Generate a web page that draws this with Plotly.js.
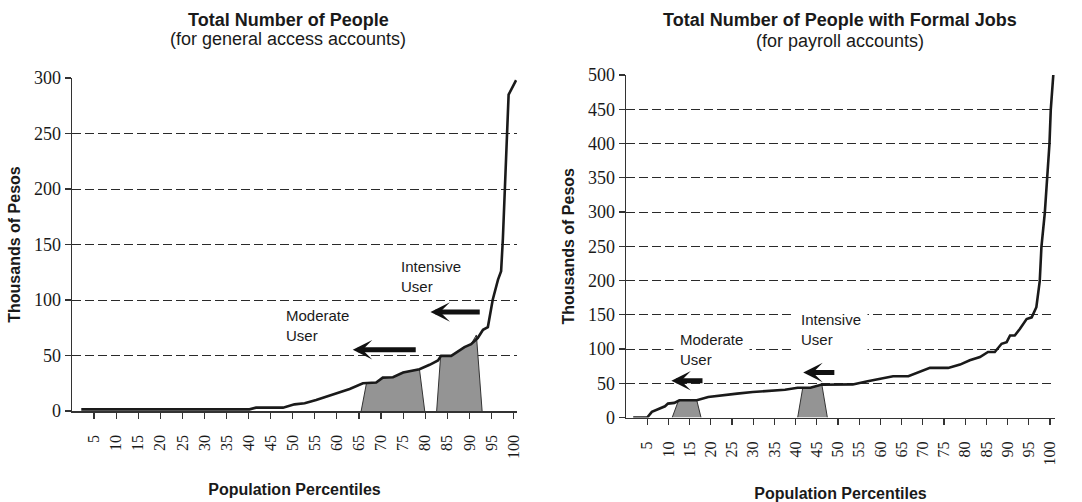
<!DOCTYPE html>
<html><head><meta charset="utf-8">
<script src="https://cdn.plot.ly/plotly-3.0.1.min.js"></script>
<style>
html,body{margin:0;padding:0;background:#fff}
#chart{width:1082px;height:502px}
</style>
</head><body><div id="chart"></div>
<script>
// ---- Left panel: Total Number of People (general access accounts) ----
const leftPct = [2.1, 40.2, 41.7, 47.8, 50.4, 52.7, 55.3, 58.0, 60.2, 62.9, 65.9, 68.9, 70.4, 72.7, 75.0, 76.8, 78.7, 81.0, 82.9, 83.6, 85.9, 88.9, 90.4, 91.9, 93.1, 94.2, 95.3, 96.5, 97.2, 97.6, 98.0, 98.5, 98.9, 100.6];
const leftVal = [1.5, 1.5, 3, 3, 6, 6.9, 9.9, 13.6, 16.6, 19.9, 25, 25.6, 30.1, 30.4, 34.6, 36.1, 37.7, 41.6, 45.5, 49.7, 49.7, 57.5, 60.2, 65.7, 73.2, 75.6, 100.3, 118.4, 126, 155, 195, 245, 285, 298];
const leftModPct = [65.5, 66.7, 68.9, 70.4, 72.7, 75.0, 76.8, 78.7, 79.9];
const leftModVal = [0, 25, 25.6, 30.1, 30.4, 34.6, 36.1, 37.7, 0];
const leftIntPct = [82.6, 83.5, 85.9, 88.9, 90.4, 91.6, 92.9];
const leftIntVal = [0, 49.7, 49.7, 57.5, 60.2, 68.5, 0];
const leftTicksY = [0, 50, 100, 150, 200, 250, 300];

// ---- Right panel: Total Number of People with Formal Jobs (payroll accounts) ----
const rightPct = [1.7, 5.0, 6.1, 8.0, 9.2, 9.9, 11.4, 12.6, 16.7, 19.4, 22.4, 26.2, 29.9, 33.7, 37.5, 40.5, 43.5, 46.0, 53.5, 57.0, 60.0, 63.0, 66.6, 69.3, 71.7, 76.0, 78.8, 81.1, 83.5, 85.4, 87.0, 88.6, 89.8, 90.6, 91.7, 92.9, 94.5, 95.7, 96.8, 97.6, 98.0, 98.8, 99.4, 99.9, 100.2, 100.8];
const rightVal = [0, 0, 8.2, 13, 16.4, 20.3, 21.3, 25.1, 25.1, 30, 32.4, 34.8, 37.2, 38.6, 40.6, 43.5, 43.5, 47.8, 48.3, 53, 56.5, 60.3, 60.3, 66.6, 72.4, 72.4, 77.2, 83.5, 88.3, 95.6, 95.6, 107.6, 110, 119.7, 119.7, 129.3, 143.8, 146.2, 161, 199, 249, 299, 349, 400, 449, 500];
const rightModPct = [10.9, 12.4, 16.7, 17.7];
const rightModVal = [0, 25.1, 25.1, 0];
const rightIntPct = [40.5, 41.7, 43.5, 46.2, 47.5];
const rightIntVal = [0, 43.5, 43.5, 47.8, 0];
const rightTicksY = [0, 50, 100, 150, 200, 250, 300, 350, 400, 450, 500];

// ---- shared x ticks ----
const pctTicks = [5, 10, 15, 20, 25, 30, 35, 40, 45, 50, 55, 60, 65, 70, 75, 80, 85, 90, 95, 100];
const pctLabels = ["5","10","15","20","25","30","35","40","45","50","55","60","65","70","75","80","85","90","95","100"];

const W = 1082, H = 502;
const SANS = "Liberation Sans";
const SERIF = "Liberation Serif";
const INK = "#1a1a1a";

function poly(x, y, xa, ya) {
  return {x: x, y: y, xaxis: xa, yaxis: ya, type: "scatter", mode: "lines", fill: "toself",
    fillcolor: "#949494", line: {color: "#333", width: 1}, hoverinfo: "skip", showlegend: false};
}
function curve(x, y, xa, ya) {
  return {x: x, y: y, xaxis: xa, yaxis: ya, type: "scatter", mode: "lines",
    line: {color: INK, width: 2.6}, showlegend: false};
}
const data = [
  poly(leftModPct, leftModVal, "x", "y"),
  poly(leftIntPct, leftIntVal, "x", "y"),
  curve(leftPct, leftVal, "x", "y"),
  poly(rightModPct, rightModVal, "x2", "y2"),
  poly(rightIntPct, rightIntVal, "x2", "y2"),
  curve(rightPct, rightVal, "x2", "y2")
];

function xAxis(dom, rng, anchor) {
  return {domain: dom, range: rng, anchor: anchor, tickmode: "array", tickvals: pctTicks, ticktext: pctLabels,
    tickangle: -90, ticks: "outside", ticklen: 6, tickwidth: 1.2, tickcolor: "#333",
    showline: true, linecolor: "#333", linewidth: 1.5, showgrid: false, zeroline: false,
    ticklabelstandoff: 10, tickfont: {family: SERIF, size: 16, color: INK},
    title: {text: "Population Percentiles", standoff: 26, font: {family: SANS, size: 16, weight: "bold", color: INK}}};
}
function yAxis(dom, rng, ticks, anchor) {
  return {domain: dom, range: rng, anchor: anchor, tickmode: "array", tickvals: ticks,
    ticks: "outside", ticklen: 6, tickwidth: 1.2, tickcolor: "#333",
    showline: true, linecolor: "#333", linewidth: 1.5,
    showgrid: true, gridcolor: "#2a2a2a", gridwidth: 1, griddash: "9px,4px", zeroline: false,
    tickfont: {family: SERIF, size: 18, color: INK},
    title: {text: "Thousands of Pesos", standoff: 9, font: {family: SANS, size: 16, weight: "bold", color: INK}}};
}
function arrow(xref, yref, head, tail, y) {
  return {xref: xref, yref: yref, x: head, y: y, axref: xref, ayref: yref, ax: tail, ay: y,
    text: "", showarrow: true, arrowhead: 3, arrowsize: 0.65, arrowwidth: 5, arrowcolor: "#111"};
}
function label(xref, yref, x, y, txt, bg) {
  return {xref: xref, yref: yref, x: x, y: y, text: txt, showarrow: false, xanchor: "left", yanchor: "middle",
    align: "left", font: {family: SANS, size: 15, color: INK}, bgcolor: bg ? "#fff" : "rgba(0,0,0,0)", borderpad: bg ? 6 : 0};
}
function title(x, y, txt, bold) {
  return {xref: "paper", yref: "paper", x: x / W, y: 1 - y / H, xanchor: "center", yanchor: "middle",
    text: txt, showarrow: false, font: {family: SANS, size: 18, weight: bold ? "bold" : "normal", color: INK}};
}

const layout = {
  width: W, height: H, margin: {l: 0, r: 0, t: 0, b: 0},
  paper_bgcolor: "#fff", plot_bgcolor: "#fff", showlegend: false,
  xaxis: xAxis([72 / W, 517 / W], [0, 100.8], "y"),
  yaxis: yAxis([(H - 411) / H, (H - 78) / H], [0, 300], leftTicksY, "x"),
  xaxis2: xAxis([626 / W, 1055 / W], [0, 101.2], "y2"),
  yaxis2: yAxis([(H - 417.5) / H, (H - 75) / H], [0, 500], rightTicksY, "x2"),
  annotations: [
    title(288, 20, "Total Number of People", true),
    title(288, 39, "(for general access accounts)", false),
    title(840, 20, "Total Number of People with Formal Jobs", true),
    title(840, 41, "(for payroll accounts)", false),
    label("x", "y", 48.2, 77, "Moderate<br>User", false),
    label("x", "y", 74.2, 121, "Intensive<br>User", false),
    arrow("x", "y", 63.6, 78.2, 55.1),
    arrow("x", "y", 81.2, 92.7, 89.2),
    label("x2", "y2", 11.1, 99, "Moderate<br>User", true),
    label("x2", "y2", 39.6, 129, "Intensive<br>User", true),
    arrow("x2", "y2", 10.7, 18.4, 53.6),
    arrow("x2", "y2", 41.8, 49.5, 65.6)
  ]
};

Plotly.newPlot("chart", data, layout, {displayModeBar: false, staticPlot: true});
</script>
</body></html>
